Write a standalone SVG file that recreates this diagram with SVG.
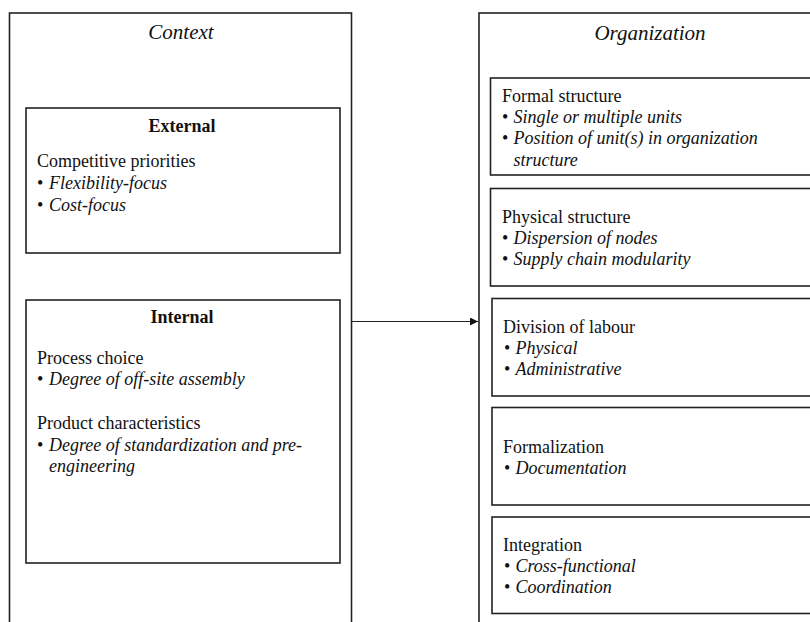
<svg xmlns="http://www.w3.org/2000/svg" width="810" height="622" viewBox="0 0 810 622">
  <defs>
    <marker id="arrowhead" markerWidth="8" markerHeight="8" refX="8" refY="4" orient="auto" markerUnits="userSpaceOnUse">
      <path d="M0,0 L8,4 L0,8 Z" fill="#111"/>
    </marker>
  </defs>
  <style>
    .box { fill: #fff; stroke: #222; stroke-width: 1.6; }
    .title { font-family: "Liberation Serif", "Times New Roman", serif; font-size: 21px; font-style: italic; fill: #111; text-anchor: middle; }
    .head { font-family: "Liberation Serif", "Times New Roman", serif; font-size: 18px; font-weight: bold; fill: #111; text-anchor: middle; }
    .txt { font-family: "Liberation Serif", "Times New Roman", serif; font-size: 18px; fill: #111; }
    .it { font-style: italic; }
    .conn { stroke: #222; stroke-width: 1.1; fill: none; }
  </style>
  <rect width="810" height="622" fill="#fff"/>

  <!-- Context column -->
  <g id="context">
    <rect class="box" x="9.5" y="13" width="342" height="620"/>
    <text class="title" x="181" y="39">Context</text>
  </g>

  <g id="external">
    <rect class="box" x="26" y="108" width="314" height="145"/>
    <text class="head" x="182" y="132">External</text>
    <text class="txt" x="37" y="167">Competitive priorities</text>
    <text class="txt" x="37" y="189">•<tspan class="it" x="49">Flexibility-focus</tspan></text>
    <text class="txt" x="37" y="211">•<tspan class="it" x="49">Cost-focus</tspan></text>
  </g>

  <g id="internal">
    <rect class="box" x="26" y="300" width="314" height="263"/>
    <text class="head" x="182" y="323">Internal</text>
    <text class="txt" x="37" y="364">Process choice</text>
    <text class="txt" x="37" y="385">•<tspan class="it" x="49">Degree of off-site assembly</tspan></text>
    <text class="txt" x="37" y="429">Product characteristics</text>
    <text class="txt" x="37" y="451">•<tspan class="it" x="49">Degree of standardization and pre-</tspan></text>
    <text class="txt it" x="49" y="472">engineering</text>
  </g>

  <!-- Organization column -->
  <g id="organization">
    <rect class="box" x="479" y="13" width="360" height="620"/>
    <text class="title" x="650" y="40">Organization</text>
  </g>

  <g id="formal-structure">
    <rect class="box" x="490.5" y="78" width="340" height="97"/>
    <text class="txt" x="502" y="102">Formal structure</text>
    <text class="txt" x="502" y="123">•<tspan class="it" x="513.5">Single or multiple units</tspan></text>
    <text class="txt" x="502" y="144">•<tspan class="it" x="513.5">Position of unit(s) in organization</tspan></text>
    <text class="txt it" x="513.5" y="166">structure</text>
  </g>

  <g id="physical-structure">
    <rect class="box" x="490.5" y="188.5" width="340" height="97.5"/>
    <text class="txt" x="502" y="223">Physical structure</text>
    <text class="txt" x="502" y="244">•<tspan class="it" x="513.5">Dispersion of nodes</tspan></text>
    <text class="txt" x="502" y="265">•<tspan class="it" x="513.5">Supply chain modularity</tspan></text>
  </g>

  <g id="division-of-labour">
    <rect class="box" x="492" y="298.5" width="340" height="97.5"/>
    <text class="txt" x="503" y="333">Division of labour</text>
    <text class="txt" x="504" y="354">•<tspan class="it" x="515.5">Physical</tspan></text>
    <text class="txt" x="504" y="375">•<tspan class="it" x="515.5">Administrative</tspan></text>
  </g>

  <g id="formalization">
    <rect class="box" x="492" y="407.5" width="340" height="97.5"/>
    <text class="txt" x="503" y="453">Formalization</text>
    <text class="txt" x="504" y="474">•<tspan class="it" x="515.5">Documentation</tspan></text>
  </g>

  <g id="integration">
    <rect class="box" x="492" y="517" width="340" height="96.5"/>
    <text class="txt" x="503" y="551">Integration</text>
    <text class="txt" x="504" y="572">•<tspan class="it" x="515.5">Cross-functional</tspan></text>
    <text class="txt" x="504" y="593">•<tspan class="it" x="515.5">Coordination</tspan></text>
  </g>

  <!-- Connectors -->
  <g id="connectors">
    <line class="conn" x1="352" y1="321.5" x2="478" y2="321.5" marker-end="url(#arrowhead)"/>
  </g>
</svg>
